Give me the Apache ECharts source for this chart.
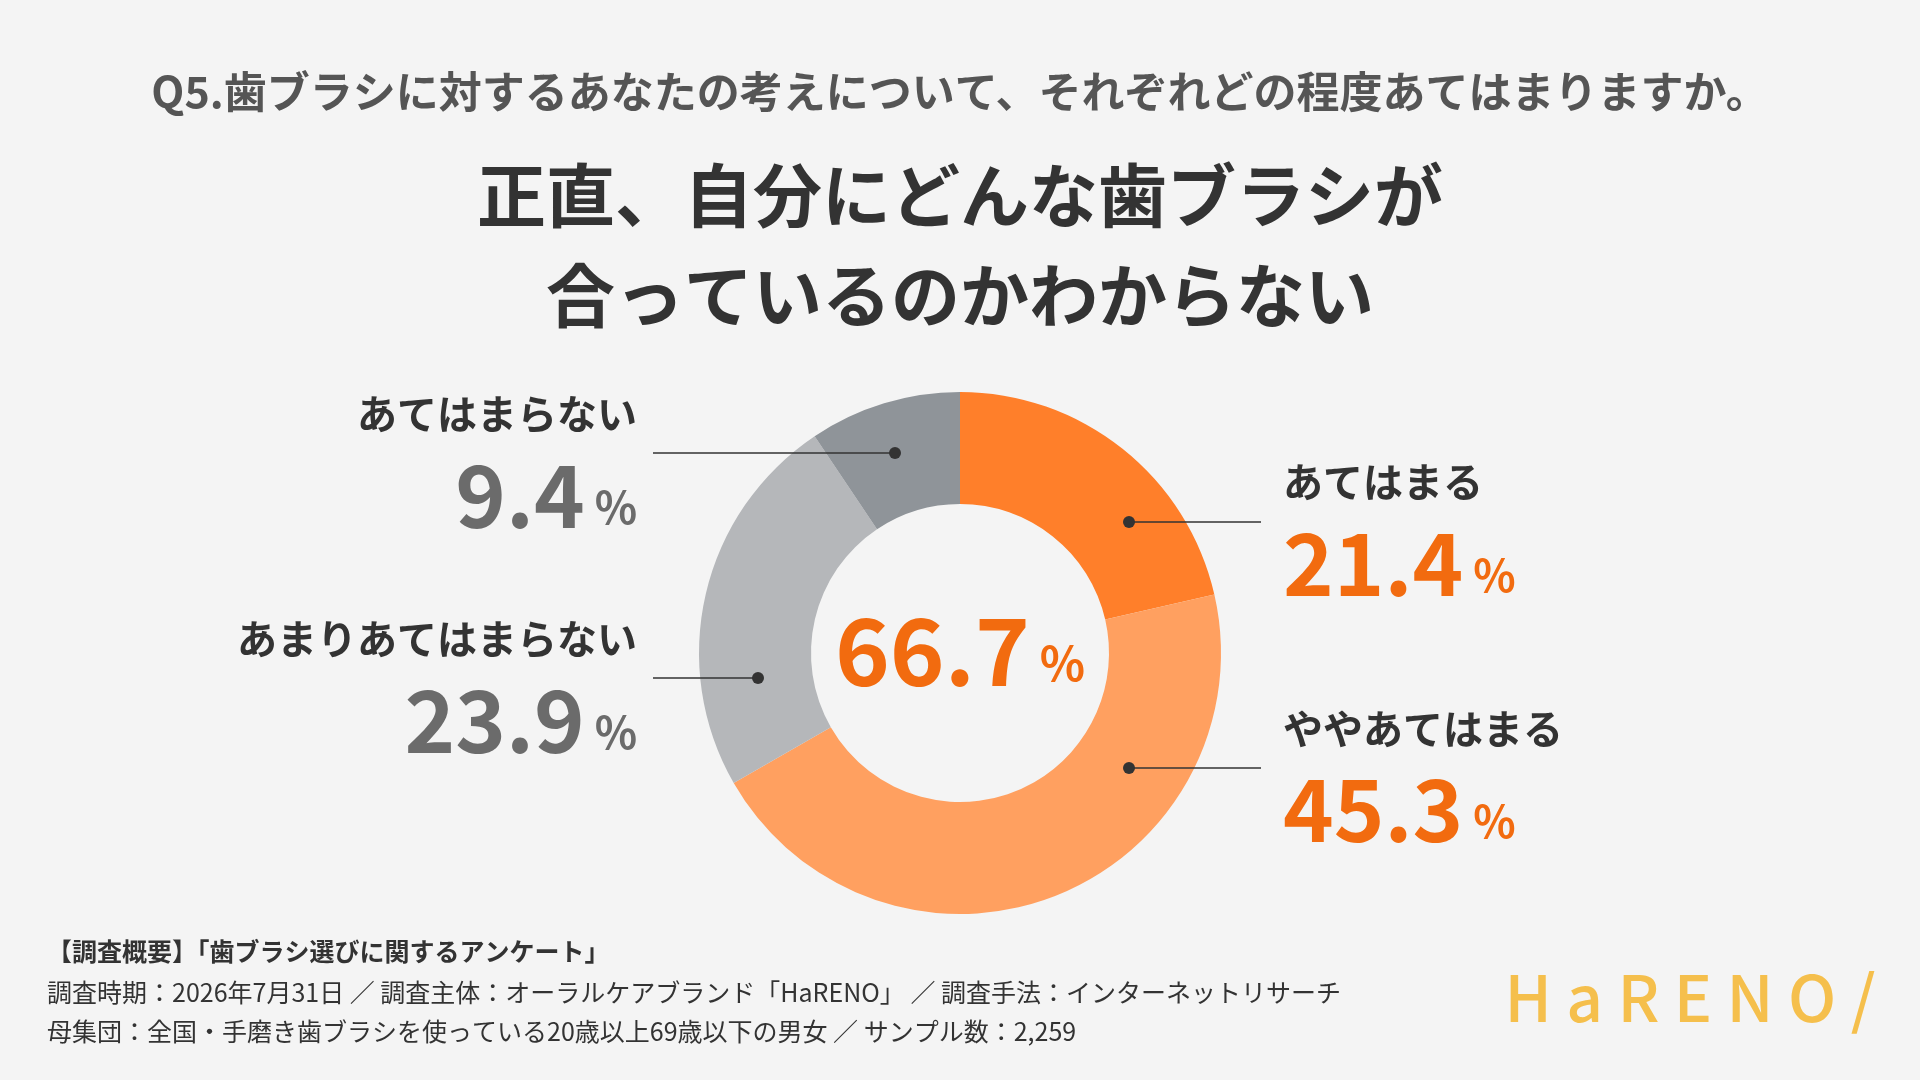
<!DOCTYPE html>
<html><head><meta charset="utf-8">
<script src="https://cdn.jsdelivr.net/npm/echarts@6/dist/echarts.min.js"></script>
<style>html,body{margin:0;background:#f4f4f4}#c{width:1920px;height:1080px}</style>
</head><body><div id="c"></div>
<script>
var categories = ['あてはまる', 'ややあてはまる', 'あまりあてはまらない', 'あてはまらない'];
var values = [21.4, 45.3, 23.9, 9.4];
var colors = ['#ff7f2a', '#ffa060', '#b5b7ba', '#8f9499'];
var agreeTotal = '66.7';

var s = 1920 / 1568;
function S(v) { return Math.round(v * s); }
var font = '"Noto Sans CJK JP", sans-serif';

// label positions (reference px) – annotation only
var labelSpots = [
  { side: 'r', x: 1048, y: 394, dot: [922, 426], lineEnd: 1030 },
  { side: 'r', x: 1048, y: 595, dot: [922, 627], lineEnd: 1030 },
  { side: 'l', x: 520, y: 522, dot: [619, 554], lineEnd: 533 },
  { side: 'l', x: 520, y: 338, dot: [731, 370], lineEnd: 533 }
];

var graphics = [];
function txt(x, y, text, size, color, weight, align, extra) {
  graphics.push(Object.assign({
    type: 'text', x: S(x), y: S(y),
    style: { text: text, fontSize: S(size), fill: color, fontWeight: weight || 'bold',
      fontFamily: font, textAlign: align || 'left', textVerticalAlign: 'middle' }
  }, extra || {}));
}
txt(784, 75, 'Q5.歯ブラシに対するあなたの考えについて、それぞれどの程度あてはまりますか。', 35, '#555', 'bold', 'center');
txt(784, 160, '正直、自分にどんな歯ブラシが', 56, '#333', 'bold', 'center');
txt(784, 242, '合っているのかわからない', 56, '#333', 'bold', 'center');

categories.forEach(function (c, i) {
  var p = labelSpots[i];
  var numCol = i < 2 ? '#f26b0f' : '#6b6b6b';
  txt(p.x, p.y, c, 33, '#333', 'bold', p.side === 'r' ? 'left' : 'right');
  graphics.push({
    type: 'text', x: S(p.x), y: S(p.y + 66),
    style: {
      rich: {
        n: { fontSize: S(70), fontWeight: 'bold', fill: numCol, fontFamily: font },
        p: { fontSize: S(36), fontWeight: 'bold', fill: numCol, fontFamily: font, padding: [S(20), 0, 0, S(8)] }
      },
      text: '{n|' + values[i].toFixed(1) + '}{p|%}',
      textAlign: p.side === 'r' ? 'left' : 'right', textVerticalAlign: 'middle'
    }
  });
  graphics.push({ type: 'line', shape: { x1: S(p.dot[0]), y1: S(p.dot[1]), x2: S(p.lineEnd), y2: S(p.dot[1]) },
    style: { stroke: '#333', lineWidth: 1.5 }, z: 10 });
  graphics.push({ type: 'circle', shape: { cx: S(p.dot[0]), cy: S(p.dot[1]), r: 6 },
    style: { fill: '#333' }, z: 11 });
});

graphics.push({
  type: 'text', x: S(784), y: S(532), z: 10,
  style: {
    rich: {
      n: { fontSize: S(76), fontWeight: 'bold', fill: '#f26b0f', fontFamily: font },
      p: { fontSize: S(38), fontWeight: 'bold', fill: '#f26b0f', fontFamily: font, padding: [S(20), 0, 0, S(8)] }
    },
    text: '{n|' + agreeTotal + '}{p|%}', textAlign: 'center', textVerticalAlign: 'middle'
  }
});

txt(38, 777, '【調査概要】「歯ブラシ選びに関するアンケート」', 20.5, '#333', 'bold');
txt(38, 810, '調査時期：2026年7月31日 ／ 調査主体：オーラルケアブランド「HaRENO」 ／ 調査手法：インターネットリサーチ', 20.5, '#333', 'normal');
txt(38, 842, '母集団：全国・手磨き歯ブラシを使っている20歳以上69歳以下の男女 ／ サンプル数：2,259', 20.5, '#333', 'normal');
txt(1380, 815, 'H a R E N O /', 52, '#f5bf4c', '500', 'center');

var chart = echarts.init(document.getElementById('c'));
chart.setOption({
  backgroundColor: '#f4f4f4',
  color: colors,
  series: [{
    type: 'pie',
    center: [S(784), S(533)],
    radius: [S(122), S(213)],
    startAngle: 90,
    clockwise: true,
    label: { show: false },
    labelLine: { show: false },
    silent: true,
    data: categories.map(function (c, i) { return { name: c, value: values[i] }; })
  }],
  graphic: graphics
});
</script></body></html>
